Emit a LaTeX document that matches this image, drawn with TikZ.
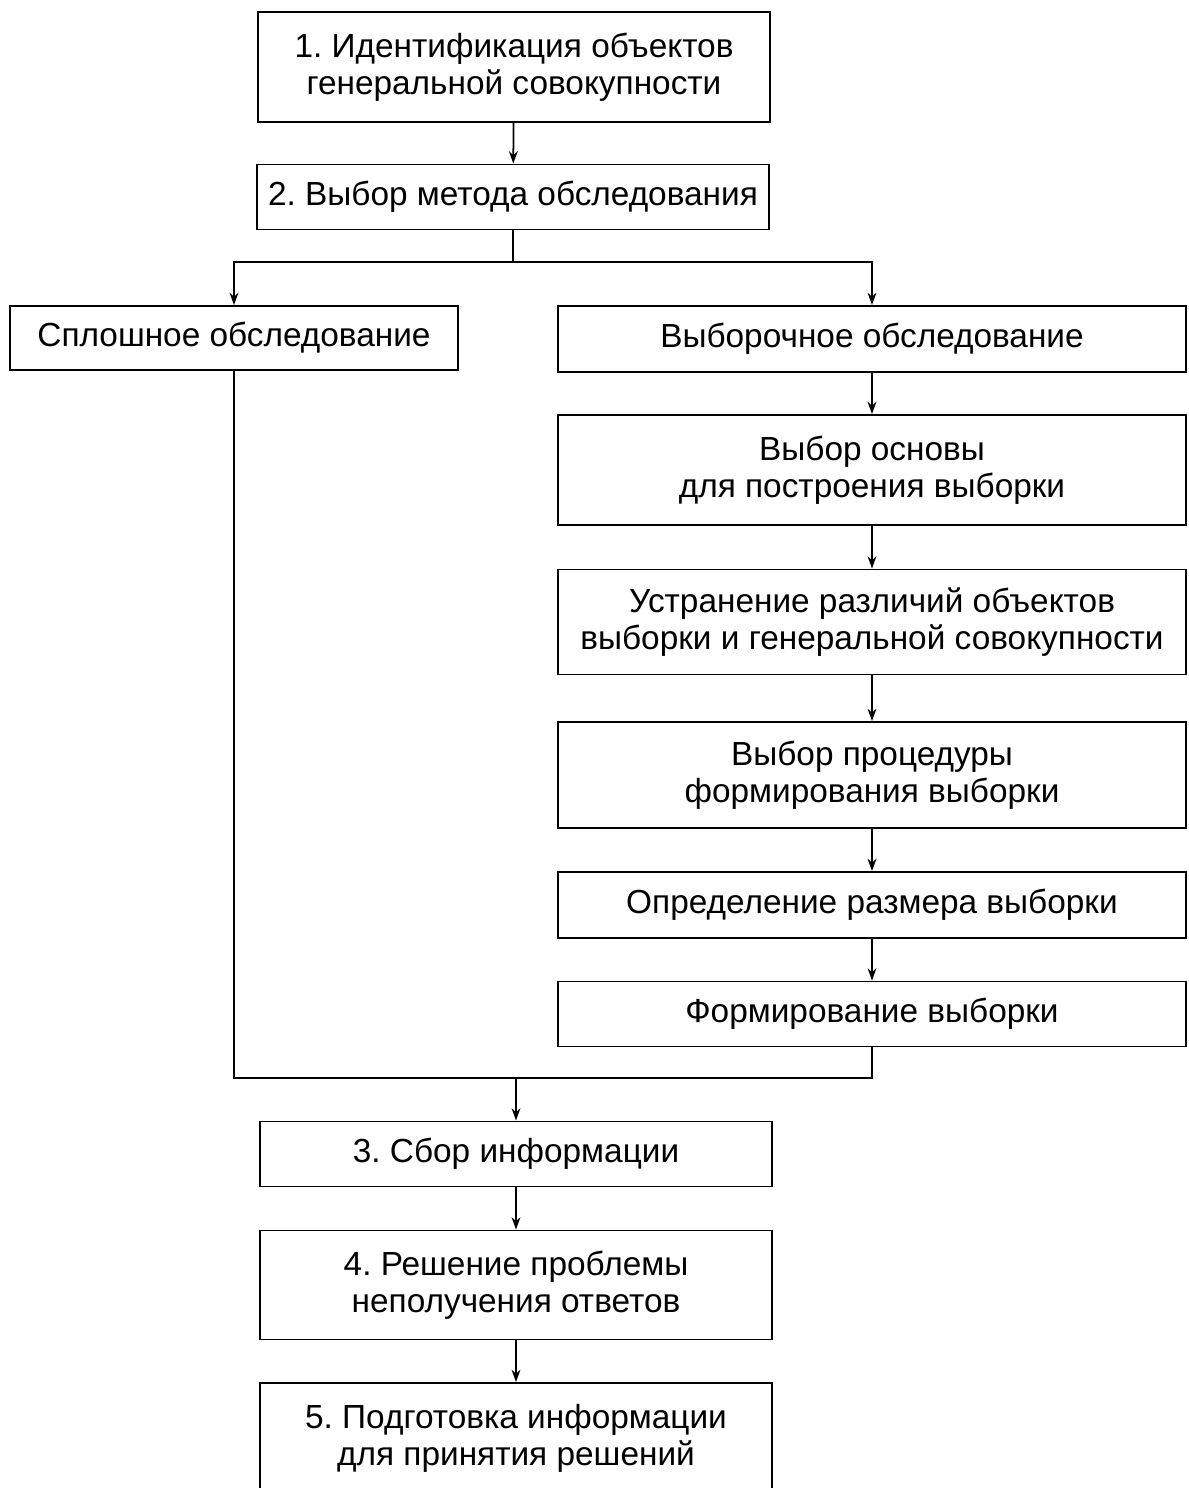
\documentclass[tikz,border=0pt]{standalone}
\usepackage{fontspec}
\setmainfont{Liberation Sans}
\usetikzlibrary{arrows.meta, positioning, calc}
\frenchspacing

\begin{document}
\begin{tikzpicture}[
			x=0.02cm, y=-0.02cm,
			stage/.style={rectangle, draw=black, line width=1.1pt, align=center, font=\fontsize{19}{21}\selectfont, inner sep=0pt},
			wide/.style={stage, minimum width=10.24cm},
			branch/.style={stage, minimum width=12.56cm},
			arrow/.style={-{Stealth[length=7pt, width=5pt]}, line width=1pt},
			link/.style={line width=1pt}
			]
			
			\clip (0,0) rectangle (1188,1488);
			
			% main steps
			\node[wide, minimum height=2.2cm] (ident) at (514,67) {1. Идентификация объектов\\генеральной совокупности};
			\node[wide, minimum height=1.3cm] (method) at (513,197) {2. Выбор метода обследования};
			
			% two kinds of survey
			\node[stage, minimum width=8.96cm, minimum height=1.28cm] (census) at (234,338) {Сплошное обследование};
			\node[branch, minimum height=1.32cm] (sample) at (872,339) {Выборочное обследование};
			\node[branch, minimum height=2.2cm] (frame) at (872,470) {Выбор основы\\для построения выборки};
			\node[branch, minimum height=2.1cm] (diff) at (872,622) {Устранение различий объектов\\выборки и генеральной совокупности};
			\node[branch, minimum height=2.12cm] (proc) at (872,775) {Выбор процедуры\\формирования выборки};
			\node[branch, minimum height=1.32cm] (size) at (872,905) {Определение размера выборки};
			\node[branch, minimum height=1.3cm] (form) at (872,1014) {Формирование выборки};
			
			% final steps
			\node[wide, minimum height=1.3cm] (collect) at (516,1154) {3. Сбор информации};
			\node[wide, minimum height=2.18cm] (nonresp) at (516,1285) {4. Решение проблемы\\неполучения ответов};
			\node[wide, minimum height=2.2cm] (prep) at (516,1438) {5. Подготовка информации\\для принятия решений};
			
			\coordinate (split) at (513,262);
			\coordinate (join) at (516,1078);
			
			\draw[arrow] (ident) -- (method);
			\draw[link] (method) -- (split);
			\draw[arrow] (split) -| (census);
			\draw[arrow] (split) -| (sample);
			
			\draw[arrow] (sample) -- (frame);
			\draw[arrow] (frame) -- (diff);
			\draw[arrow] (diff) -- (proc);
			\draw[arrow] (proc) -- (size);
			\draw[arrow] (size) -- (form);
			
			\draw[link] (census.south) |- (join);
			\draw[link] (form.south) |- (join);
			\draw[arrow] (join) -- (collect);
			\draw[arrow] (collect) -- (nonresp);
			\draw[arrow] (nonresp) -- (prep);
		\end{tikzpicture}
\end{document}
